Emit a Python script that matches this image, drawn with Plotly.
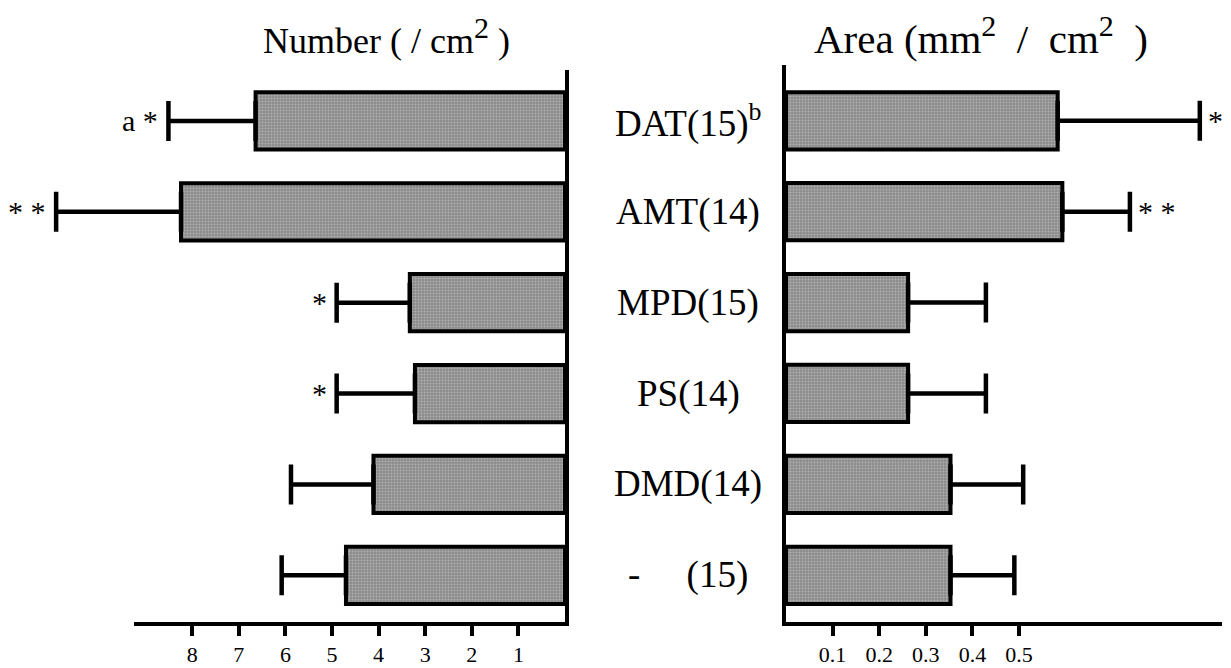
import plotly.graph_objects as go

# ---- data (top to bottom as in the figure) ----
categories = ["DAT(15)<sup>b</sup>", "AMT(14)", "MPD(15)", "PS(14)", "DMD(14)",
              "-\u00a0\u00a0\u00a0\u00a0\u00a0(15)"]
number_mean = [6.64, 8.24, 3.33, 3.22, 4.11, 4.70]
number_err = [1.87, 2.68, 1.57, 1.68, 1.77, 1.38]
number_sig = ["a *", "* *", "*", "*", "", ""]
area_mean = [0.583, 0.593, 0.262, 0.262, 0.353, 0.353]
area_err = [0.305, 0.145, 0.167, 0.167, 0.156, 0.137]
area_sig = ["*", "* *", "", "", "", ""]
number_ticks = [1, 2, 3, 4, 5, 6, 7, 8]
area_ticks = [0.1, 0.2, 0.3, 0.4, 0.5]
SUP2 = '<sup><span style="font-size:30px">2</span></sup>'
number_title = "Number ( / cm" + SUP2 + " )"
area_title = "Area (mm" + SUP2 + "\u00a0 / \u00a0cm" + SUP2 + "\u00a0 )"

FONT = "Liberation Serif, Times New Roman, serif"
W, H = 1231, 668

bar_marker = dict(
    color="#9a9a9a",
    line=dict(color="black", width=4),
    pattern=dict(shape=".", fgcolor="#d8d8d8", bgcolor="#8a8a8a", size=3, solidity=0.35),
)
err_style = dict(type="data", symmetric=False, color="black", thickness=4.5, width=20)

fig = go.Figure()

# left panel bars (drawn on a wide hidden axis so the long error bar fits)
fig.add_trace(go.Bar(x=number_mean, y=categories, orientation="h", width=0.63,
                     marker=bar_marker, xaxis="x", yaxis="y", showlegend=False,
                     error_x=dict(array=number_err, arrayminus=[0] * len(number_err), **err_style)))
# visible scale of the left panel
fig.add_trace(go.Scatter(x=[], y=[], xaxis="x3", yaxis="y", showlegend=False))
# right panel bars
fig.add_trace(go.Bar(x=area_mean, y=categories, orientation="h", width=0.63,
                     marker=bar_marker, xaxis="x2", yaxis="y2", showlegend=False,
                     error_x=dict(array=area_err, arrayminus=[0] * len(area_err), **err_style)))

cat_order = list(reversed(categories))

def px_x(p):
    return p / W

def px_y(p):
    return (H - p) / H

PXU = 46.6  # pixels per unit (left) / per 0.1 (right)
tick_style = dict(ticks="outside", ticklen=10, tickwidth=3.5, tickcolor="black",
                  tickfont=dict(size=22, family=FONT), ticklabelstandoff=0,
                  showline=True, linecolor="black", linewidth=4, showgrid=False, zeroline=False)

fig.update_layout(
    width=W, height=H,
    margin=dict(l=0, r=0, t=0, b=0),
    paper_bgcolor="white", plot_bgcolor="rgba(0,0,0,0)",
    font=dict(family=FONT, color="black"),
    xaxis=dict(domain=[0, px_x(565)], range=[565 / PXU, 0], anchor="y",
               showline=False, showgrid=False, zeroline=False, showticklabels=False, ticks=""),
    xaxis3=dict(domain=[px_x(134), px_x(565)], range=[(565 - 134) / PXU, 0], anchor="y",
                tickmode="array", tickvals=number_ticks, ticktext=[str(t) for t in number_ticks],
                **tick_style),
    yaxis=dict(domain=[px_y(622), px_y(70)], range=[-0.514, 5.56], anchor="x", side="right",
               type="category", categoryorder="array", categoryarray=cat_order,
               showline=True, linecolor="black", linewidth=4, showgrid=False, zeroline=False,
               showticklabels=False, ticks=""),
    xaxis2=dict(domain=[px_x(786), px_x(1222)], range=[0, (1222 - 786) / (PXU * 10)], anchor="y2",
                tickmode="array", tickvals=area_ticks, ticktext=[str(t) for t in area_ticks],
                **tick_style),
    yaxis2=dict(domain=[px_y(622), px_y(65)], range=[-0.514, 5.614], anchor="x2", side="left",
                type="category", categoryorder="array", categoryarray=cat_order,
                showline=True, linecolor="black", linewidth=4, showgrid=False, zeroline=False,
                showticklabels=False, ticks=""),
)

annotations = []
# category labels in the middle
for c in categories:
    annotations.append(dict(text=c, x=px_x(688), xref="paper", y=c, yref="y",
                            xanchor="center", yanchor="middle", showarrow=False,
                            font=dict(size=37, family=FONT)))
# significance marks
for c, m, e, s in zip(categories, number_mean, number_err, number_sig):
    if s:
        annotations.append(dict(text=s, x=m + e, xref="x", y=c, yref="y",
                                xanchor="right", yanchor="middle", xshift=-8, showarrow=False,
                                font=dict(size=30, family=FONT)))
for c, m, e, s in zip(categories, area_mean, area_err, area_sig):
    if s:
        annotations.append(dict(text=s, x=m + e, xref="x2", y=c, yref="y2",
                                xanchor="left", yanchor="middle", xshift=6, showarrow=False,
                                font=dict(size=30, family=FONT)))
# panel titles
annotations.append(dict(text=number_title, x=px_x(386), xref="paper", y=px_y(36), yref="paper",
                        xanchor="center", yanchor="middle", showarrow=False,
                        font=dict(size=36, family=FONT)))
annotations.append(dict(text=area_title, x=px_x(981), xref="paper", y=px_y(36), yref="paper",
                        xanchor="center", yanchor="middle", showarrow=False,
                        font=dict(size=41, family=FONT)))
fig.update_layout(annotations=annotations)

fig.write_html("out.html", config={"displayModeBar": False},
               post_script="document.body.style.margin='0px';")
